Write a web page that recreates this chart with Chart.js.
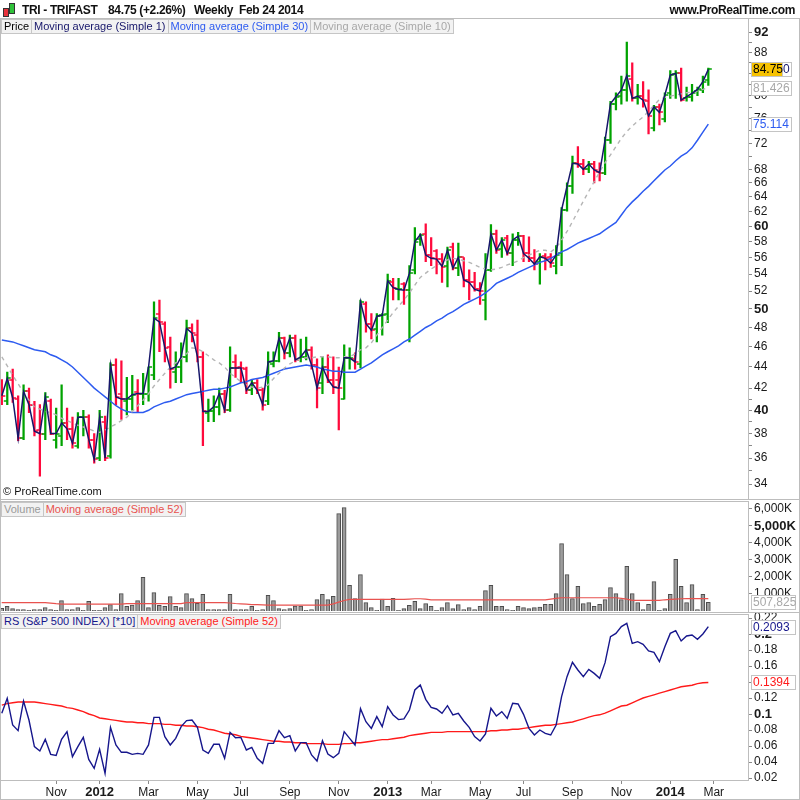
<!DOCTYPE html>
<html>
<head>
<meta charset="utf-8">
<title>TRI - TRIFAST</title>
<script src="https://cdn.jsdelivr.net/npm/chart.js@4.4.1/dist/chart.umd.min.js"></script>
<style>
  body { margin: 0; background: #fff; }
  #page { position: relative; width: 800px; height: 800px; overflow: hidden; font-family: "Liberation Sans", Arial, sans-serif; }
  canvas { position: absolute; left: 0; top: 0; }
  .txt { position: absolute; white-space: nowrap; }
  .hdr { top: 3px; font-size: 12px; font-weight: bold; color: #111; letter-spacing: -0.35px; }
  .legend { position: absolute; left: 1px; display: flex; font-size: 11px; }
  .legend span { border: 1px solid #c6c6c6; background: #f2f2f2; padding: 0 2px; line-height: 13px; margin-right: -1px; }
  .rule { position: absolute; background: #bdbdbd; }
  .candle { position: absolute; border: 1px solid #333; width: 4px; }
</style>
</head>
<body>
<div id="page">
  <canvas id="priceChart" width="800" height="800"></canvas>
  <canvas id="volChart" width="800" height="800"></canvas>
  <canvas id="rsChart" width="800" height="800"></canvas>

  <div class="rule" style="left:0;top:18px;width:800px;height:1px"></div>
  <div class="rule" style="left:0;top:18px;width:1px;height:782px"></div>
  <div class="rule" style="left:799px;top:18px;width:1px;height:782px"></div>
  <div class="rule" style="left:0;top:799px;width:800px;height:1px"></div>
  <div class="rule" style="left:0;top:499px;width:800px;height:1px"></div>
  <div class="rule" style="left:0;top:501px;width:748px;height:1px"></div>
  <div class="rule" style="left:0;top:612px;width:800px;height:1px"></div>
  <div class="rule" style="left:0;top:614px;width:748px;height:1px"></div>

  <div class="candle" style="left:3px;top:8px;height:7px;background:#e8323c"></div>
  <div class="candle" style="left:9px;top:3px;height:9px;background:#2fc23a"></div>
  <div class="txt hdr" style="left:22px">TRI - TRIFAST</div>
  <div class="txt hdr" style="left:108px">84.75 (+2.26%)</div>
  <div class="txt hdr" style="left:194px">Weekly&nbsp; Feb 24 2014</div>
  <div class="txt hdr" style="right:5px">www.ProRealTime.com</div>

  <div class="legend" style="top:19px">
    <span style="color:#000">Price</span>
    <span style="color:#16166a">Moving average (Simple 1)</span>
    <span style="color:#2d5bf0">Moving average (Simple 30)</span>
    <span style="color:#a8a8a8">Moving average (Simple 10)</span>
  </div>
  <div class="txt" style="left:3px;top:485px;font-size:11px;color:#111">© ProRealTime.com</div>

  <div class="legend" style="top:502px">
    <span style="color:#9a9a9a">Volume</span>
    <span style="color:#e8524f">Moving average (Simple 52)</span>
  </div>

  <div class="legend" style="top:614px">
    <span style="color:#16168c">RS (S&amp;P 500 INDEX) [*10]</span>
    <span style="color:#ff1a1a">Moving average (Simple 52)</span>
  </div>
</div>

<script>
// weekly bars, first week Aug 29 2011, last week Feb 24 2014
const monthTickWeeks = [10, 18, 27, 36, 44, 53, 62, 71, 79, 88, 96, 105, 114, 123, 131]
const monthTickLabels = ['Nov', '2012', 'Mar', 'May', 'Jul', 'Sep', 'Nov', '2013', 'Mar', 'May', 'Jul', 'Sep', 'Nov', '2014', 'Mar']
const yearWeeks = [18, 71, 123]

const opens = [
  42.0, 40.8, 42.8, 41.0, 37.6, 41.7, 40.5, 38.3, 38.0, 40.8,
  37.5, 37.8, 38.9, 38.4, 37.0, 39.4, 39.4, 37.5, 36.0, 39.0,
  36.2, 44.2, 41.5, 40.8, 41.0, 41.6, 41.5, 41.5, 43.2, 49.5,
  48.4, 46.0, 43.5, 44.0, 45.0, 47.9, 47.2, 45.0, 39.8, 39.9,
  40.3, 41.5, 40.0, 44.5, 44.0, 43.8, 41.8, 42.5, 41.8, 40.8,
  44.3, 44.6, 46.9, 45.4, 46.9, 44.8, 45.0, 45.7, 44.2, 42.5,
  44.0, 42.8, 42.8, 41.0, 44.9, 44.8, 44.3, 50.6, 48.4, 47.8,
  49.3, 49.5, 53.0, 52.2, 52.8, 52.1, 54.5, 58.3, 59.0, 56.3,
  56.8, 55.8, 55.0, 57.3, 54.7, 56.0, 53.3, 53.0, 52.2, 51.0,
  54.5, 59.0, 57.0, 58.5, 56.5, 58.2, 58.7, 56.5, 55.9, 55.5,
  56.2, 56.0, 55.0, 56.5, 62.2, 65.5, 69.0, 68.8, 68.0, 68.8,
  67.6, 67.5, 72.5, 78.6, 80.0, 81.0, 83.0, 79.5, 80.0, 79.0,
  74.5, 78.0, 76.0, 80.5, 83.8, 84.0, 79.5, 79.8, 80.8, 81.0, 82.8
]
const highs = [
  42.8, 43.5, 43.8, 41.3, 42.3, 42.0, 40.8, 40.5, 41.6, 41.0,
  40.2, 42.3, 40.2, 39.4, 39.8, 40.0, 39.6, 38.0, 40.0, 39.5,
  44.4, 44.8, 44.6, 43.0, 43.2, 42.8, 43.4, 44.0, 50.8, 51.0,
  48.6, 47.0, 45.5, 46.4, 48.8, 48.4, 48.8, 45.5, 41.0, 41.3,
  42.0, 41.8, 46.0, 45.2, 44.5, 44.0, 42.8, 42.8, 42.0, 45.5,
  45.5, 47.5, 47.0, 47.2, 47.2, 46.8, 47.0, 46.0, 44.8, 45.0,
  45.2, 45.0, 44.0, 46.2, 45.9, 45.4, 51.0, 50.8, 49.5, 49.5,
  49.5, 54.0, 53.5, 53.5, 53.0, 55.0, 59.8, 59.0, 60.3, 58.5,
  57.0, 56.5, 57.3, 57.8, 57.8, 56.0, 54.5, 54.2, 53.0, 56.5,
  60.2, 59.5, 58.5, 58.8, 59.0, 59.2, 58.8, 58.6, 57.0, 56.5,
  56.5, 56.5, 57.5, 62.5, 66.0, 70.0, 71.5, 69.5, 69.2, 69.2,
  69.0, 73.0, 79.0, 80.5, 83.5, 90.0, 86.0, 82.0, 82.5, 81.0,
  78.3, 78.5, 80.5, 84.5, 84.5, 85.0, 81.5, 82.0, 81.5, 83.5, 85.0
]
const lows = [
  40.5, 40.5, 40.7, 37.4, 37.5, 39.8, 37.8, 34.6, 37.5, 37.9,
  36.8, 37.0, 37.5, 36.8, 36.8, 37.8, 36.8, 35.6, 35.8, 35.8,
  36.0, 40.5, 39.2, 39.6, 40.0, 39.8, 40.5, 40.8, 42.8, 45.5,
  44.5, 42.0, 42.5, 42.5, 44.5, 46.5, 44.5, 37.0, 39.0, 39.0,
  39.6, 39.8, 39.9, 43.0, 42.5, 41.5, 41.4, 41.5, 40.0, 40.5,
  44.0, 44.5, 44.8, 45.0, 44.5, 44.5, 44.7, 43.8, 40.2, 41.5,
  42.5, 41.5, 38.3, 41.0, 43.8, 43.8, 43.9, 47.5, 46.8, 46.5,
  47.2, 48.5, 51.0, 51.0, 50.5, 46.5, 54.0, 57.5, 55.5, 55.0,
  54.0, 53.0, 52.5, 54.5, 53.8, 52.5, 51.0, 52.0, 50.5, 48.8,
  54.3, 56.5, 56.0, 56.3, 55.0, 57.5, 55.5, 55.5, 54.5, 52.8,
  54.5, 54.8, 54.0, 55.0, 62.0, 64.5, 68.3, 67.2, 67.5, 66.0,
  66.3, 67.2, 72.0, 77.5, 78.5, 79.0, 79.0, 78.5, 78.0, 73.5,
  74.0, 75.0, 75.5, 79.5, 79.5, 79.0, 79.0, 79.0, 80.0, 80.5, 81.8
]
const closes = [
  41.3, 42.9, 41.1, 37.6, 41.7, 40.5, 38.2, 38.0, 41.2, 38.0,
  38.0, 38.9, 38.4, 37.2, 39.4, 39.4, 37.5, 35.9, 39.4, 36.0,
  44.2, 41.2, 41.0, 41.0, 41.4, 41.5, 41.5, 44.0, 49.0, 48.6,
  45.9, 43.8, 44.0, 45.0, 47.9, 47.4, 45.0, 39.9, 39.9, 40.3,
  41.5, 40.0, 43.9, 43.9, 43.9, 41.8, 42.5, 41.8, 40.5, 44.5,
  44.6, 46.9, 45.4, 46.9, 44.7, 45.0, 45.7, 44.2, 42.0, 44.0,
  42.8, 42.1, 42.0, 44.9, 44.9, 44.5, 50.8, 48.4, 47.7, 49.2,
  49.3, 53.2, 52.4, 52.2, 52.1, 54.1, 58.0, 58.9, 56.3, 55.9,
  55.8, 54.9, 56.9, 54.7, 56.0, 53.3, 53.0, 52.2, 52.0, 54.5,
  59.0, 56.9, 58.2, 56.5, 58.2, 58.7, 56.5, 55.9, 55.2, 56.1,
  55.9, 55.3, 56.3, 62.2, 65.5, 68.9, 68.8, 68.0, 68.8, 67.9,
  67.5, 72.5, 78.6, 79.8, 81.0, 83.6, 79.5, 79.9, 79.2, 76.5,
  78.0, 77.1, 80.1, 83.7, 84.0, 79.2, 79.8, 80.4, 81.1, 82.5, 84.75
]
const sma30 = [
  46.7, 46.6, 46.5, 46.3, 46.1, 45.9, 45.7, 45.6, 45.5, 45.2,
  45.0, 44.7, 44.4, 44.0, 43.5, 43.0, 42.5, 42.0, 41.6, 41.2,
  40.8, 40.4, 40.1, 39.9, 39.8, 39.8, 39.8, 40.0, 40.3, 40.5,
  40.7, 40.8, 41.0, 41.2, 41.4, 41.5, 41.6, 41.7, 41.8, 41.9,
  41.9, 42.0, 42.1, 42.3, 42.5, 42.6, 42.8, 42.9, 43.0, 43.2,
  43.4, 43.6, 43.8, 43.9, 44.0, 44.1, 44.2, 44.1, 44.0, 43.8,
  43.7, 43.6, 43.6, 43.5, 43.5, 43.5, 43.8, 44.1, 44.4, 44.8,
  45.2, 45.5, 45.8, 46.1, 46.5, 46.8, 47.2, 47.6, 48.0, 48.3,
  48.7, 49.0, 49.4, 49.7, 50.1, 50.5, 50.8, 51.1, 51.4, 51.8,
  52.3, 52.9, 53.2, 53.5, 53.8, 54.2, 54.5, 54.8, 55.1, 55.4,
  55.6, 55.9, 56.3, 56.7, 57.0, 57.4, 57.8, 58.1, 58.4, 58.7,
  59.0, 59.5, 60.0, 60.5, 61.5, 62.5, 63.3, 64.0, 64.8, 65.5,
  66.3, 67.1, 67.9, 68.5, 69.3, 70.0, 70.5, 71.3, 72.5, 73.8, 75.114
]
const sma10 = [
  45.0, 44.1, 43.2, 42.4, 41.6, 40.9, 40.3, 40.1, 39.9, 39.8,
  39.6, 39.3, 39.1, 38.9, 38.7, 38.55, 38.4, 38.2, 38.1, 38.3,
  38.55, 38.8, 39.1, 39.4, 39.9, 40.4, 40.9, 41.5, 42.2, 42.8,
  43.4, 44.0, 44.4, 44.8, 45.3, 45.9, 45.8, 45.5, 45.1, 44.7,
  44.4, 44.0, 43.4, 43.0, 42.6, 42.3, 42.1, 42.0, 42.1, 42.3,
  42.9, 43.4, 43.9, 44.3, 44.6, 44.8, 44.9, 44.9, 45.0, 45.0,
  45.0, 44.9, 44.9, 45.0, 45.0, 45.3, 45.7, 45.9, 46.4, 47.2,
  48.0, 48.8, 49.6, 50.3, 51.0, 51.8, 52.7, 53.6, 54.1, 54.6,
  55.0, 55.4, 55.7, 55.9, 55.8, 55.6, 55.4, 55.1, 54.8, 54.6,
  54.5, 54.6, 54.8, 55.1, 55.3, 55.6, 56.0, 56.3, 56.6, 56.9,
  56.9, 56.7, 57.2, 58.2, 59.3, 60.6, 62.0, 63.4, 64.8, 66.2,
  67.6, 69.0, 70.2, 71.5, 72.8, 73.9, 74.8, 75.6, 76.3, 77.3,
  78.3, 79.3, 79.7, 79.9, 80.1, 80.3, 80.5, 80.6, 80.8, 81.1, 81.426
]
// volume in thousands of shares
const volume = [
  150, 274, 137, 78, 78, 39, 78, 78, 196, 78,
  39, 608, 78, 78, 196, 39, 568, 39, 39, 196,
  372, 78, 1019, 274, 353, 608, 1980, 196, 1078, 333,
  274, 843, 274, 196, 1019, 725, 451, 980, 78, 78,
  78, 78, 980, 78, 78, 78, 274, 39, 78, 921,
  608, 137, 78, 137, 294, 294, 39, 78, 666, 980,
  666, 862, 5723, 6076, 1509, 725, 2136, 490, 196, 39,
  706, 274, 745, 39, 137, 333, 568, 137, 431, 274,
  39, 196, 490, 137, 372, 78, 196, 78, 274, 1196,
  1509, 274, 274, 78, 39, 274, 196, 137, 196, 235,
  392, 392, 1019, 3959, 2136, 725, 1450, 431, 490, 274,
  392, 666, 1372, 1019, 666, 2626, 1019, 490, 78, 392,
  1725, 39, 137, 980, 3038, 1450, 490, 1548, 78, 980, 507.825
]
const volMa52 = [
  490, 490, 490, 490, 490, 490, 490, 490, 490, 460,
  430, 410, 400, 400, 400, 400, 400, 400, 400, 400,
  400, 400, 400, 430, 430, 430, 430, 430, 430, 430,
  430, 430, 430, 430, 490, 490, 490, 490, 490, 490,
  490, 490, 470, 440, 420, 400, 380, 370, 360, 350,
  350, 350, 350, 350, 350, 350, 350, 350, 350, 350,
  350, 420, 520, 620, 680, 680, 680, 680, 680, 680,
  680, 680, 680, 680, 680, 700, 720, 720, 700, 650,
  650, 650, 650, 650, 650, 650, 650, 650, 650, 650,
  650, 650, 650, 650, 650, 650, 650, 650, 650, 650,
  650, 700, 740, 780, 780, 780, 780, 780, 780, 780,
  780, 780, 780, 780, 740, 700, 630, 620, 620, 620,
  620, 620, 660, 680, 700, 720, 730, 730, 730, 730, 730
]
const rs = [
  0.1008, 0.1196, 0.0863, 0.0792, 0.1163, 0.0925, 0.0592, 0.0538, 0.0683, 0.0496,
  0.0483, 0.0683, 0.0779, 0.0467, 0.0592, 0.0708, 0.0433, 0.0321, 0.0558, 0.0258,
  0.0833, 0.0613, 0.0521, 0.0521, 0.0496, 0.0508, 0.0496, 0.0613, 0.0958, 0.0958,
  0.0717, 0.0613, 0.0696, 0.0842, 0.0917, 0.0925, 0.0833, 0.0550, 0.0508, 0.0621,
  0.0621, 0.0446, 0.0771, 0.0704, 0.0708, 0.0550, 0.0583, 0.0446, 0.0383, 0.0633,
  0.0633, 0.0792, 0.0704, 0.0729, 0.0538, 0.0642, 0.0642, 0.0488, 0.0413, 0.0667,
  0.0500, 0.0454, 0.0508, 0.0779, 0.0696, 0.0613, 0.1067, 0.0904, 0.0821, 0.0967,
  0.0842, 0.1092, 0.0988, 0.0930, 0.0938, 0.1050, 0.1300, 0.1363, 0.1183, 0.1083,
  0.1063, 0.1008, 0.1104, 0.0988, 0.1008, 0.0913, 0.0833, 0.0717, 0.0663, 0.0750,
  0.1071, 0.0975, 0.1029, 0.0946, 0.1133, 0.1125, 0.0996, 0.0821, 0.0738, 0.0800,
  0.0758, 0.0738, 0.0863, 0.1217, 0.1467, 0.1646, 0.1550, 0.1467, 0.1558, 0.1508,
  0.1446, 0.1642, 0.1967, 0.2008, 0.2092, 0.2133, 0.1883, 0.1904, 0.1871, 0.1788,
  0.1771, 0.1654, 0.1842, 0.2008, 0.2042, 0.1913, 0.1975, 0.1988, 0.1933, 0.2000, 0.2093
]
const rsMa52 = [
  0.111, 0.113, 0.114, 0.115, 0.115, 0.115, 0.115, 0.114, 0.113, 0.112,
  0.111, 0.110, 0.108, 0.107, 0.105, 0.103, 0.100, 0.098, 0.095, 0.094,
  0.093, 0.092, 0.091, 0.090, 0.090, 0.089, 0.089, 0.088, 0.088, 0.088,
  0.087, 0.087, 0.086, 0.086, 0.085, 0.085, 0.084, 0.083, 0.081, 0.080,
  0.078, 0.076, 0.075, 0.074, 0.072, 0.071, 0.070, 0.069, 0.068, 0.067,
  0.066, 0.066, 0.065, 0.065, 0.064, 0.064, 0.063, 0.063, 0.063, 0.063,
  0.062, 0.062, 0.062, 0.063, 0.063, 0.064, 0.064, 0.065, 0.066, 0.067,
  0.068, 0.068, 0.069, 0.070, 0.071, 0.073, 0.074, 0.075, 0.076, 0.077,
  0.077, 0.077, 0.078, 0.078, 0.078, 0.078, 0.078, 0.078, 0.078, 0.078,
  0.079, 0.079, 0.080, 0.080, 0.081, 0.081, 0.082, 0.083, 0.084, 0.085,
  0.086, 0.086, 0.087, 0.088, 0.089, 0.090, 0.092, 0.094, 0.096, 0.098,
  0.099, 0.101, 0.104, 0.107, 0.110, 0.111, 0.114, 0.117, 0.120, 0.122,
  0.124, 0.126, 0.128, 0.130, 0.132, 0.134, 0.135, 0.136, 0.138, 0.139, 0.1394
]

const priceTicks = [34, 36, 38, 40, 42, 44, 46, 48, 50, 52, 54, 56, 58, 60, 62, 64, 66, 68, 72, 76, 80, 84, 88, 92]
const priceMinorTicks = [35, 37, 39, 41, 70, 74, 78, 82, 86, 90]
const priceBoldTicks = [40, 50, 60, 92]
const volTicks = [1000, 2000, 3000, 4000, 5000, 6000]
const volBoldTicks = [5000]
const rsTicks = [0.02, 0.04, 0.06, 0.08, 0.1, 0.12, 0.14, 0.16, 0.18, 0.2, 0.22]
const rsBoldTicks = [0.1, 0.2]

const FONT = '"Liberation Sans", Arial, sans-serif'
Chart.defaults.font.family = FONT
Chart.defaults.animation = false

const X_MIN = -0.2
const X_MAX = 137.3
const AXIS_W = 52
const last = closes.length - 1

const upColor = '#00a300'
const downColor = '#ff0a3c'
const barColors = closes.map((c, i) => (c >= opens[i] ? upColor : downColor))

const pts = (arr) => arr.map((v, i) => ({ x: i, y: v }))

const xHidden = { type: 'linear', display: false, offset: false, min: X_MIN, max: X_MAX }

const yAxis = (extra, boldList) => Object.assign({
  position: 'right',
  afterFit: (a) => { a.width = AXIS_W },
  grid: { drawOnChartArea: false, drawTicks: true, tickLength: 4, color: '#8a8a8a' },
  border: { display: true, color: '#bdbdbd' },
  ticks: {
    padding: 2,
    color: '#1a1a1a',
    autoSkip: false,
    font: (c) => {
      const bold = c.tick && boldList.some((b) => Math.abs(b - c.tick.value) < 1e-9)
      return { family: FONT, size: bold ? 13 : 12, weight: bold ? 'bold' : 'normal' }
    },
  },
}, extra)

function valueBoxes(items) {
  return {
    id: 'valueBoxes',
    afterDraw(chart) {
      const { ctx } = chart
      const y = chart.scales.y
      ctx.save()
      ctx.font = '12px ' + FONT
      ctx.textBaseline = 'middle'
      items.forEach((b) => {
        const py = Math.round(y.getPixelForValue(b.value))
        ctx.fillStyle = b.bg
        ctx.fillRect(751, py - 7, b.w, 14)
        ctx.strokeStyle = '#c4c4c4'
        ctx.lineWidth = 1
        ctx.strokeRect(751.5, py - 6.5, b.w, 14)
        ctx.fillStyle = b.color
        ctx.fillText(b.text, 753, py + 1)
      })
      ctx.restore()
    },
  }
}

// open tick to the left, close tick to the right of each high-low bar
const ohlcTicks = {
  id: 'ohlcTicks',
  afterDatasetDraw(chart, args) {
    if (args.index !== 0) return
    const { ctx, scales: { x, y } } = chart
    ctx.save()
    ctx.lineWidth = 1.5
    closes.forEach((c, i) => {
      const px = x.getPixelForValue(i)
      const yo = Math.round(y.getPixelForValue(opens[i]))
      const yc = Math.round(y.getPixelForValue(c))
      ctx.strokeStyle = barColors[i]
      ctx.beginPath()
      ctx.moveTo(px - 3.5, yo)
      ctx.lineTo(px, yo)
      ctx.moveTo(px, yc)
      ctx.lineTo(px + 3.5, yc)
      ctx.stroke()
    })
    ctx.restore()
  },
}

new Chart(document.getElementById('priceChart'), {
  type: 'bar',
  data: {
    datasets: [
      {
        type: 'bar',
        data: highs.map((h, i) => ({ x: i, y: [lows[i], h] })),
        backgroundColor: barColors,
        barThickness: 1.6,
        order: 5,
      },
      { type: 'line', data: pts(sma30), borderColor: '#2d5bf0', borderWidth: 1.5, pointRadius: 0, order: 3 },
      { type: 'line', data: pts(sma10), borderColor: '#b5b5b5', borderWidth: 1.4, borderDash: [4, 4], pointRadius: 0, order: 2 },
      { type: 'line', data: pts(closes), borderColor: '#16166a', borderWidth: 1.5, pointRadius: 0, order: 1 },
    ],
  },
  options: {
    responsive: false,
    animation: false,
    layout: { padding: { top: 18, bottom: 301, left: 0, right: 0 } },
    plugins: { legend: { display: false }, tooltip: { enabled: false } },
    scales: {
      x: xHidden,
      y: yAxis({
        type: 'logarithmic',
        min: 32.9,
        max: 94.9,
        afterBuildTicks: (a) => { a.ticks = priceTicks.concat(priceMinorTicks).sort((p, q) => p - q).map((v) => ({ value: v })) },
      }, priceBoldTicks),
    },
  },
  plugins: [ohlcTicks, valueBoxes([
    { value: closes[last], text: '84.750', color: '#16166a', bg: '#fff', w: 40 },
    { value: closes[last], text: '84.75', color: '#000', bg: '#f7c200', w: 31 },
    { value: sma10[last], text: '81.426', color: '#a8a8a8', bg: '#fff', w: 40 },
    { value: sma30[last], text: '75.114', color: '#2d5bf0', bg: '#fff', w: 40 },
  ])],
})
// tick labels only on the main price levels
Chart.getChart('priceChart').options.scales.y.ticks.callback = (v) => (priceTicks.includes(v) ? String(v) : '')
Chart.getChart('priceChart').update()

new Chart(document.getElementById('volChart'), {
  type: 'bar',
  data: {
    datasets: [
      {
        type: 'bar',
        data: pts(volume),
        backgroundColor: '#9c9c9c',
        borderColor: '#4d4d4d',
        borderWidth: 1,
        barThickness: 4,
        order: 2,
      },
      { type: 'line', data: pts(volMa52), borderColor: '#e8524f', borderWidth: 1.2, pointRadius: 0, order: 1 },
    ],
  },
  options: {
    responsive: false,
    animation: false,
    layout: { padding: { top: 501, bottom: 189, left: 0, right: 0 } },
    plugins: { legend: { display: false }, tooltip: { enabled: false } },
    scales: {
      x: xHidden,
      y: yAxis({
        type: 'linear',
        min: 0,
        max: 6470,
        afterBuildTicks: (a) => { a.ticks = volTicks.map((v) => ({ value: v })) },
      }, volBoldTicks),
    },
  },
  plugins: [valueBoxes([
    { value: volume[last], text: '507,825', color: '#a8a8a8', bg: '#fff', w: 44 },
  ])],
})
Chart.getChart('volChart').options.scales.y.ticks.callback = (v) => v.toLocaleString('en-US') + 'K'
Chart.getChart('volChart').update()

new Chart(document.getElementById('rsChart'), {
  type: 'line',
  data: {
    datasets: [
      { data: pts(rsMa52), borderColor: '#ff1a1a', borderWidth: 1.4, pointRadius: 0, order: 2 },
      { data: pts(rs), borderColor: '#16168c', borderWidth: 1.4, pointRadius: 0, order: 1 },
    ],
  },
  options: {
    responsive: false,
    animation: false,
    layout: { padding: { top: 614, bottom: 0, left: 0, right: 0 } },
    plugins: { legend: { display: false }, tooltip: { enabled: false } },
    scales: {
      x: {
        type: 'linear',
        offset: false,
        min: X_MIN,
        max: X_MAX,
        afterFit: (a) => { a.height = 20 },
        afterBuildTicks: (a) => { a.ticks = monthTickWeeks.map((v) => ({ value: v })) },
        grid: { drawOnChartArea: false, drawTicks: true, tickLength: 4, color: '#8a8a8a' },
        border: { display: true, color: '#bdbdbd' },
        ticks: {
          autoSkip: false,
          maxRotation: 0,
          minRotation: 0,
          padding: 1,
          color: '#1a1a1a',
          callback: (v) => monthTickLabels[monthTickWeeks.indexOf(v)] || '',
          font: (c) => {
            const yr = c.tick && yearWeeks.includes(c.tick.value)
            return { family: FONT, size: yr ? 13 : 12, weight: yr ? 'bold' : 'normal' }
          },
        },
      },
      y: yAxis({
        type: 'linear',
        min: 0.0175,
        max: 0.225,
        afterBuildTicks: (a) => { a.ticks = rsTicks.map((v) => ({ value: v })) },
      }, rsBoldTicks),
    },
  },
  plugins: [valueBoxes([
    { value: rs[last], text: '0.2093', color: '#16168c', bg: '#fff', w: 44 },
    { value: rsMa52[last], text: '0.1394', color: '#ff1a1a', bg: '#fff', w: 44 },
  ])],
})
Chart.getChart('rsChart').options.scales.y.ticks.callback = (v) => String(+v.toFixed(2))
Chart.getChart('rsChart').update()
</script>
</body>
</html>
